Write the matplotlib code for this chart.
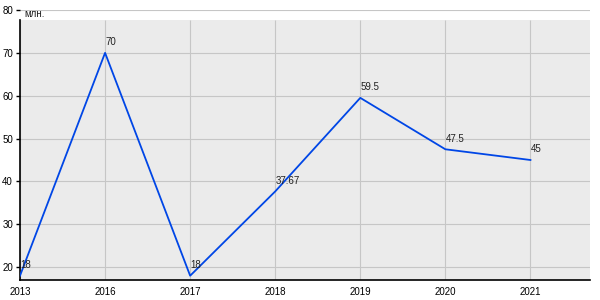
import matplotlib.pyplot as plt

plt.rcParams['font.family'] = ['Liberation Sans', 'DejaVu Sans']

years = ['2013', '2016', '2017', '2018', '2019', '2020', '2021']
values = [18, 70, 18, 37.67, 59.5, 47.5, 45]
value_labels = ['18', '70', '18', '37.67', '59.5', '47.5', '45']
y_ticks = [20, 30, 40, 50, 60, 70, 80]

fig = plt.figure(figsize=(6, 3), dpi=100)
ax = fig.add_axes([20 / 600, 20 / 300, 570 / 600, 270 / 300])

ymin, ymax, ygray = 17, 80, 77.67
xs = list(range(len(years)))

ax.set_facecolor('white')
ax.axhspan(ymin, ygray, color='#ebebeb', zorder=0, lw=0)

# grid: horizontal lines full width, vertical only inside gray area
for t in y_ticks:
    ax.axhline(t, color='#c6c6c6', lw=0.8, zorder=1)
ax.vlines(xs, ymin, ygray, color='#c6c6c6', lw=0.8, zorder=1)

ax.plot(xs, values, color='#0046e6', lw=1.3, zorder=3)

for x, v, lab in zip(xs, values, value_labels):
    ax.annotate(lab, (x, v), xytext=(0, 4), textcoords='offset points',
                ha='left', va='bottom', fontsize=7, color='#222222', zorder=4)

ax.text(0.05, ygray + 0.3, 'млн.', fontsize=7, ha='left', va='bottom', color='#222222')

ax.set_xlim(0, 6.7)
ax.set_ylim(ymin, ymax)
ax.set_xticks(xs)
ax.set_xticklabels(years)
ax.set_yticks(y_ticks)
ax.tick_params(axis='x', length=0, labelsize=7, pad=5)
ax.tick_params(axis='y', length=3, width=1, labelsize=7, pad=2)

for s in ['top', 'right']:
    ax.spines[s].set_visible(False)
ax.spines['left'].set_bounds(ymin, ygray)
ax.spines['left'].set_linewidth(1.2)
ax.spines['bottom'].set_linewidth(1.2)

fig.savefig('out.png', dpi=100)
